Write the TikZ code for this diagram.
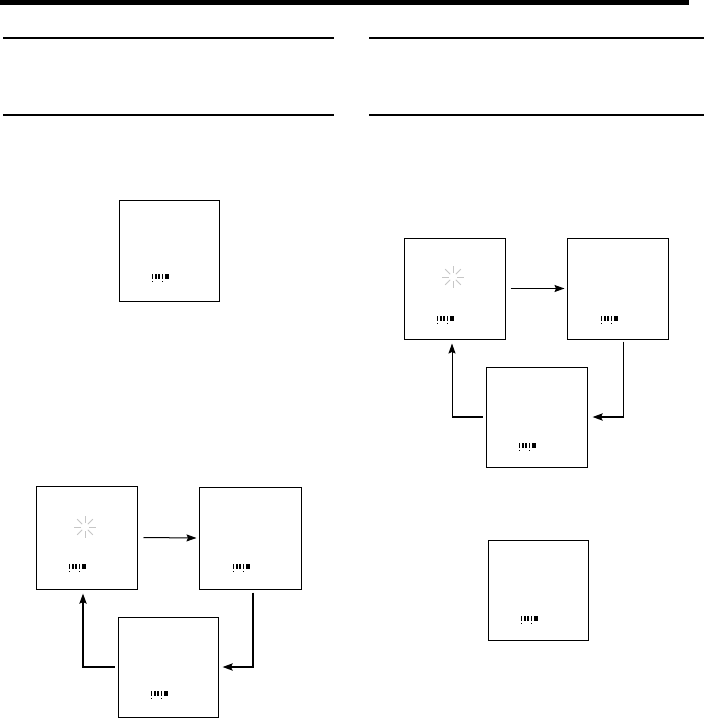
\documentclass[tikz,border=0pt]{standalone}
\usetikzlibrary{arrows.meta}
\begin{document}
\begin{tikzpicture}[x=1pt,y=-1pt,
  screen/.style={draw=black,line width=1pt,fill=white,inner sep=0pt},
  rule/.style={line width=1.6pt},
  thinarrow/.style={line width=1pt,-{Stealth[length=10pt,width=7pt,inset=1.5pt]}},
  thickarrow/.style={line width=2.2pt,-{Stealth[length=10pt,width=7pt,inset=1.5pt]}},
  thicknotip/.style={line width=2.2pt},
  thinline/.style={line width=1pt},
  lcd/.pic={
    \fill (0,-3) rectangle (1.4,2.2); \fill (0.2,3.6) rectangle (1.2,4.6);
    \fill (3.2,-3) rectangle (4.6,2.2);
    \fill (6.3,-3) rectangle (7.9,2.2);
    \fill (9.6,-3) rectangle (11,2.2); \fill (9.8,3.6) rectangle (10.8,4.6);
    \fill (12.8,-3) rectangle (17,2.2);
  },
  burst/.pic={
    \foreach \a in {0,45,...,315}{
      \draw[gray!45,line width=0.9pt] (\a:4) -- (\a:11);
    }
  }
]
\useasboundingbox (0,0) rectangle (704,718);
% header bar and rules
\fill (0,0) rectangle (689,4.5);
\draw[rule] (3,38) -- (334,38);
\draw[rule] (3,115) -- (334,115);
\draw[rule] (369,38) -- (704,38);
\draw[rule] (369,115) -- (704,115);

% screens
\node[screen,minimum width=100pt,minimum height=101pt] (A) at (169,250.5) {};
\node[screen,minimum width=101pt,minimum height=103pt] (B) at (86.5,537.5) {};
\node[screen,minimum width=102pt,minimum height=102pt] (C) at (250,538) {};
\node[screen,minimum width=100pt,minimum height=100pt] (D) at (168,667) {};
\node[screen,minimum width=101pt,minimum height=101pt] (E) at (454.5,288.5) {};
\node[screen,minimum width=101pt,minimum height=101pt] (F) at (617.5,288.5) {};
\node[screen,minimum width=101pt,minimum height=100pt] (G) at (536.5,417) {};
\node[screen,minimum width=100pt,minimum height=100pt] (H) at (538,590) {};

% display contents
\pic at (152,277) {lcd};
\pic at (69,567) {lcd};
\pic at (233,567) {lcd};
\pic at (151,694) {lcd};
\pic at (437,319) {lcd};
\pic at (601,319) {lcd};
\pic at (519,446) {lcd};
\pic at (521,619) {lcd};
\pic at (85,527) {burst};
\pic at (453,277) {burst};

% left cycle
\draw[thinarrow] ([xshift=6pt]B.east) -- ([xshift=-2pt]C.west);
\coordinate (c1) at ([xshift=3pt,yshift=-3pt]C.south);
\draw[thickarrow] (c1) |- ([xshift=4pt]D.east);
\coordinate (d1) at ([xshift=-3pt]D.west);
\draw[thickarrow] (d1) -| ([xshift=-3.5pt,yshift=-4pt]B.south);

% right cycle
\draw[thinarrow] ([xshift=5pt]E.east) -- ([xshift=-2pt]F.west);
\coordinate (f1) at ([xshift=5.5pt,yshift=-2pt]F.south);
\coordinate (f2) at (f1 |- G.east);
\draw[thinline] (f1) -- (f2);
\draw[thickarrow] ([xshift=1pt]f2) -- ([xshift=5pt]G.east);
\coordinate (g1) at ([xshift=-3pt]G.west);
\coordinate (g2) at ([xshift=-2.5pt]E.south |- G.west);
\draw[thicknotip] (g1) -- ([xshift=-0.5pt]g2);
\draw[thinline,-{Stealth[length=10pt,width=7pt,inset=1.5pt]}] (g2) -- ([xshift=-2.5pt,yshift=-4pt]E.south);
\end{tikzpicture}
\end{document}
